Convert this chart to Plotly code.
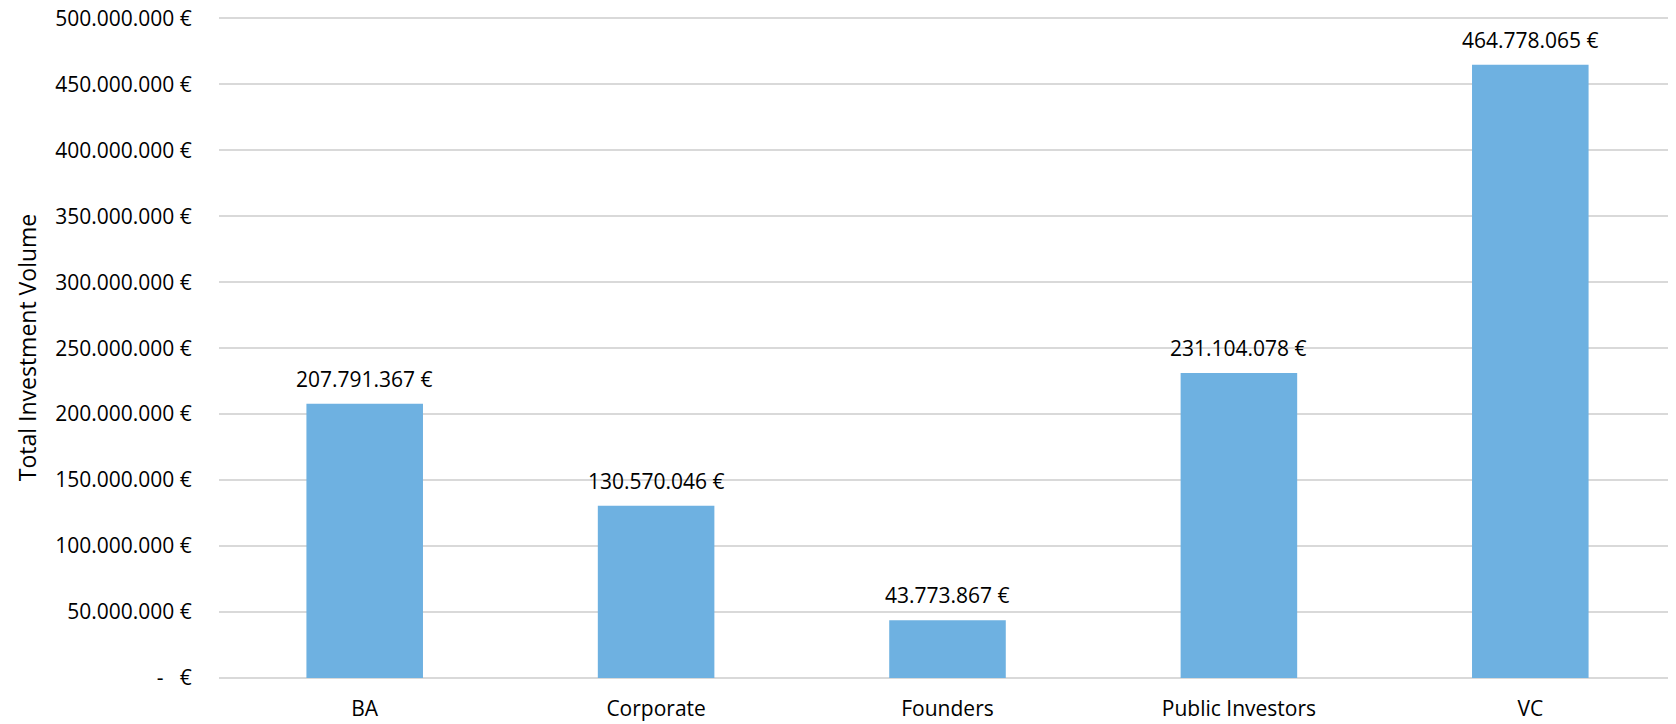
import plotly.graph_objects as go

categories = ["BA", "Corporate", "Founders", "Public Investors", "VC"]
values = [207791367, 130570046, 43773867, 231104078, 464778065]
tick_vals = [0, 50e6, 100e6, 150e6, 200e6, 250e6, 300e6, 350e6, 400e6, 450e6, 500e6]
y_max = 501e6


def fmt_eur(v):
    if v == 0:
        return "-   €"
    return f"{int(v):,}".replace(",", ".") + " €"


tick_text = [fmt_eur(v) for v in tick_vals]
label_text = [fmt_eur(v) for v in values]

FONT = "Open Sans"

fig = go.Figure()
fig.add_trace(go.Bar(
    x=categories, y=values,
    marker=dict(color="#6EB1E1", line=dict(width=0)),
    width=0.4,
))

for c, v, t in zip(categories, values, label_text):
    fig.add_annotation(x=c, y=v, text=t, showarrow=False, yanchor="middle",
                       yshift=25, font=dict(family=FONT, size=21, color="#000000"))

# page body has an 8px margin; size the figure so it fits the 1676x724 window
fig.update_layout(
    width=1668, height=716,
    margin=dict(l=211, r=0, t=8.7, b=46),
    paper_bgcolor="white", plot_bgcolor="white",
    showlegend=False,
    font=dict(family=FONT, size=21, color="#000000"),
    bargap=0.6,
)
fig.update_xaxes(
    automargin=False,
    showgrid=False, showline=False, zeroline=False,
    ticks="outside", ticklen=12, tickcolor="rgba(0,0,0,0)",
    tickfont=dict(family=FONT, size=21, color="#000000"),
)
fig.update_yaxes(
    automargin=False,
    range=[0, y_max], tickvals=tick_vals, ticktext=tick_text,
    ticklabeloverflow="allow",
    showgrid=True, gridcolor="#D9D9D9", gridwidth=1.5,
    zeroline=True, zerolinecolor="#D9D9D9", zerolinewidth=1.5,
    showline=False,
    ticks="outside", ticklen=22, tickcolor="rgba(0,0,0,0)",
    tickfont=dict(family=FONT, size=21, color="#000000"),
    title=dict(text="Total Investment Volume", font=dict(family=FONT, size=23, color="#000000"), standoff=12),
)

fig.write_html("out.html")
